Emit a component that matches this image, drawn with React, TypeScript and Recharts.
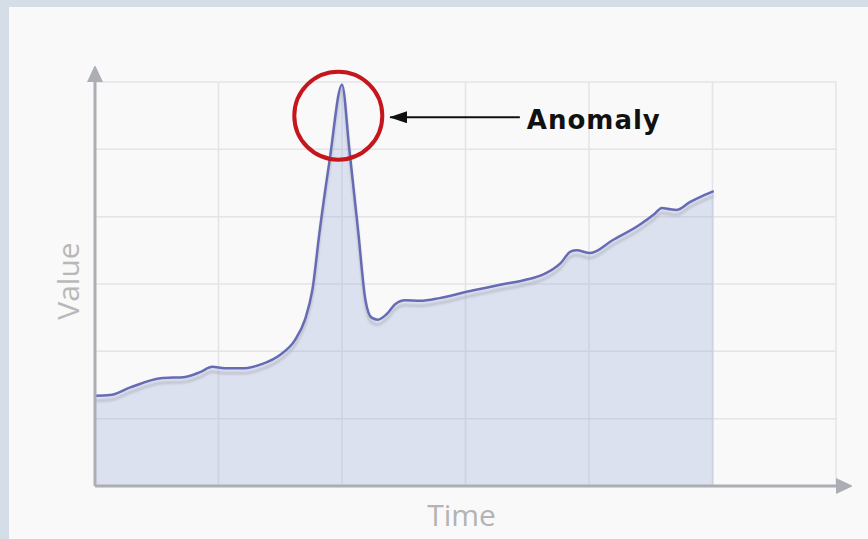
import { ComposedChart, Area, Line, XAxis, YAxis, CartesianGrid, ReferenceDot, ReferenceLine } from 'recharts';

// time (0..60 across the axis) and value (0..60 up the axis)
const times = [0, 1.2, 2.8, 5.3, 7.3, 8.5, 9.5, 10.5, 12.1, 13.5, 15.0, 16.2, 17.0, 17.6, 18.2, 19.0, 20.0, 20.6, 21.3, 21.9, 22.4, 22.9, 23.6, 24.3, 25.1, 26.3, 27.9, 30.0, 32.8, 34.8, 36.4, 37.7, 38.5, 39.0, 40.1, 41.9, 44.1, 45.3, 45.9, 46.6, 47.1, 48.2, 49.2, 50.1];
const values = [13.4, 13.5, 14.6, 16.0, 16.2, 16.9, 17.7, 17.5, 17.5, 18.1, 19.5, 21.7, 24.7, 29.1, 38.0, 48.4, 59.6, 49.9, 38.0, 27.6, 25.0, 24.7, 25.5, 27.0, 27.6, 27.5, 27.9, 28.8, 29.9, 30.6, 31.5, 33.1, 34.8, 35.0, 34.6, 36.5, 38.8, 40.4, 41.3, 41.1, 41.0, 42.2, 43.1, 43.8];
const gridTicks = [0, 10, 20, 30, 40, 50, 60];

// annotation
const anomalyAt = { t: 19.7, v: 55.0 };
const arrowFrom = 34.4;
const arrowTo = 23.9;
const arrowLevel = 54.76;

const data = times.map((t, i) => ({ t, v: values[i] }));

const axisGrey = '#abaeb3';

const scaleOf = (axis: any) => {
  const s = axis && axis.scale;
  if (!s) return (v: number) => v;
  return typeof s === 'function' ? s : s.map ? (v: number) => s.map(v) : (v: number) => v;
};

export default function App() {
  return (
    <div style={{ position: 'fixed', left: 0, top: 0, width: 868, height: 539, background: '#d5dde7', overflow: 'hidden' }}>
      <div style={{ position: 'absolute', left: 9, top: 7, right: 0, bottom: 0, background: '#f9f9fa' }} />
      <div style={{ position: 'absolute', left: 0, top: 0 }}>
        <ComposedChart width={868} height={539} data={data} margin={{ top: 82, right: 32, left: 0, bottom: 0 }}>
          <defs>
            <marker id="arrX" viewBox="0 0 16 16" refX="0" refY="8" markerWidth="16" markerHeight="16" markerUnits="userSpaceOnUse" orient="auto-start-reverse">
              <path d="M0,0 L17,8 L0,16 z" fill={axisGrey} />
            </marker>
            <marker id="arrA" viewBox="0 0 18 12" refX="17" refY="6" markerWidth="18" markerHeight="12" markerUnits="userSpaceOnUse" orient="auto">
              <path d="M0,0 L18,6 L0,12 z" fill="#111" />
            </marker>
            <filter id="sh" x="-5%" y="-5%" width="110%" height="120%">
              <feDropShadow dx="0" dy="5" stdDeviation="1" floodColor="#a9abb3" floodOpacity="0.6" />
            </filter>
          </defs>
          <CartesianGrid
            stroke="#e3e4e8"
            strokeWidth={1.5}
            horizontalCoordinatesGenerator={(p: any) => gridTicks.map((v) => scaleOf(p.yAxis)(v))}
            verticalCoordinatesGenerator={(p: any) => gridTicks.map((v) => scaleOf(p.xAxis)(v))}
          />
          <XAxis
            type="number"
            dataKey="t"
            domain={[0, 60]}
            ticks={gridTicks}
            tick={false}
            tickLine={false}
            height={53}
            axisLine={{ stroke: axisGrey, strokeWidth: 3, markerEnd: 'url(#arrX)' }}
            label={(p: any) => (
              <text x={p.viewBox.x + p.viewBox.width / 2 - 4} y={p.viewBox.y + 40} textAnchor="middle" fontFamily="Open Sans" fontSize={30} fill="#b3b3b3">
                Time
              </text>
            )}
          />
          <YAxis
            type="number"
            domain={[0, 60]}
            ticks={gridTicks}
            tick={false}
            tickLine={false}
            width={95}
            axisLine={{ stroke: axisGrey, strokeWidth: 3, markerStart: 'url(#arrX)' }}
            label={(p: any) => {
              const cx = 79;
              const cy = p.viewBox.y + p.viewBox.height / 2 - 3;
              return (
                <text x={cx} y={cy} transform={`rotate(-90 ${cx} ${cy})`} textAnchor="middle" fontFamily="Open Sans" fontSize={30} fill="#b8b8b8">
                  Value
                </text>
              );
            }}
          />
          <Area type="monotone" dataKey="v" stroke="none" fill="#98a9d9" fillOpacity={0.3} isAnimationActive={false} />
          <Line type="monotone" dataKey="v" stroke="#666cb4" strokeWidth={2.5} dot={false} filter="url(#sh)" isAnimationActive={false} />
          <ReferenceDot x={anomalyAt.t} y={anomalyAt.v} r={44} fill="none" stroke="#c4161c" strokeWidth={4} />
          <ReferenceLine
            segment={[{ x: arrowFrom, y: arrowLevel }, { x: arrowTo, y: arrowLevel }]}
            stroke="#111"
            strokeWidth={2}
            markerEnd="url(#arrA)"
            label={(p: any) => (
              <text x={p.viewBox.x + p.viewBox.width + 7} y={p.viewBox.y + 12} fontFamily="DejaVu Sans" fontWeight="bold" fontSize={26} letterSpacing={1} fill="#111">
                Anomaly
              </text>
            )}
          />
        </ComposedChart>
      </div>
    </div>
  );
}
